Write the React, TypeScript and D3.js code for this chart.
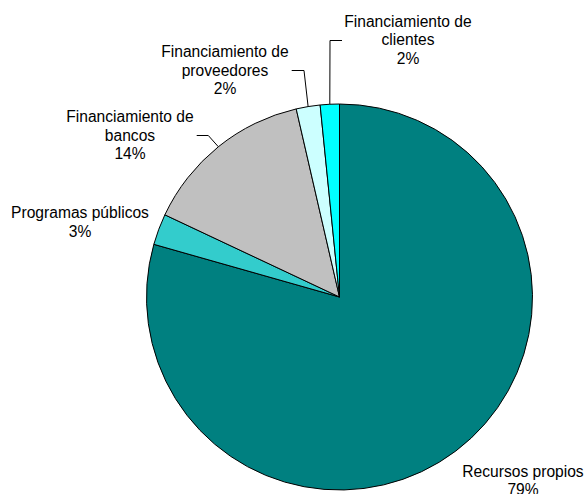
import React from "react";
import * as d3 from "d3";

const categories = [
  "Recursos propios",
  "Programas públicos",
  "Financiamiento de bancos",
  "Financiamiento de proveedores",
  "Financiamiento de clientes",
];
const values = [79.4, 2.6, 14.4, 2.0, 1.6];
const labelLines = [
  ["Recursos propios"],
  ["Programas públicos"],
  ["Financiamiento de", "bancos"],
  ["Financiamiento de", "proveedores"],
  ["Financiamiento de", "clientes"],
];
const colors = ["#008080", "#33CCCC", "#C0C0C0", "#CCFFFF", "#00FFFF"];

// layout (label anchor positions, leader line start/elbow)
const labelPos = [
  { x: 523, y: 476.7 },
  { x: 80, y: 218.3 },
  { x: 130, y: 122.3 },
  { x: 225, y: 57.3 },
  { x: 408, y: 26.7 },
];
const leaders: ({ sx: number; sy: number; ex: number; ey: number } | null)[] = [
  null,
  null,
  { sx: 196.7, sy: 135.5, ex: 208.3, ey: 135.5 },
  { sx: 291.7, sy: 70.5, ex: 304, ey: 70.5 },
  { sx: 342, sy: 40.5, ex: 330, ey: 40.5 },
];

const W = 584;
const H = 494;
const cx = 339.5;
const cy = 297;
const R = 193;
const fontSize = 15.6;
const lineH = 18.4;

export default function App() {
  const data = values.map((v, i) => ({ v, i }));
  const pie = d3
    .pie<{ v: number; i: number }>()
    .value((d) => d.v)
    .sort(null);
  const arcs = pie(data);
  const arcGen = d3
    .arc<d3.PieArcDatum<{ v: number; i: number }>>()
    .innerRadius(0)
    .outerRadius(R);
  const total = d3.sum(values);

  return (
    <svg
      width={W}
      height={H}
      style={{ position: "absolute", left: 0, top: 0, overflow: "hidden" }}
      fontFamily="'Liberation Sans', Arial, sans-serif"
    >
      <rect x={0} y={0} width={W} height={H} fill="#fff" />
      <g transform={`translate(${cx},${cy})`}>
        {arcs.map((a) => (
          <path
            key={a.index}
            d={arcGen(a) || ""}
            fill={colors[a.index]}
            stroke="#000"
            strokeWidth={1}
            strokeLinejoin="round"
          />
        ))}
      </g>
      {arcs.map((a) => {
        const L = leaders[a.index];
        if (!L) return null;
        const mid = (a.startAngle + a.endAngle) / 2;
        const px = cx + R * Math.sin(mid);
        const py = cy - R * Math.cos(mid);
        return (
          <polyline
            key={"l" + a.index}
            points={`${L.sx},${L.sy} ${L.ex},${L.ey} ${px},${py}`}
            fill="none"
            stroke="#000"
            strokeWidth={1}
          />
        );
      })}
      {arcs.map((a) => {
        const p = labelPos[a.index];
        const lines = [
          ...labelLines[a.index],
          `${Math.round((values[a.index] / total) * 100)}%`,
        ];
        return (
          <text
            key={"t" + a.index}
            x={p.x}
            y={p.y}
            fontSize={fontSize}
            textAnchor="middle"
            fill="#000"
          >
            {lines.map((ln, j) => (
              <tspan key={j} x={p.x} y={p.y + j * lineH}>
                {ln}
              </tspan>
            ))}
          </text>
        );
      })}
    </svg>
  );
}
